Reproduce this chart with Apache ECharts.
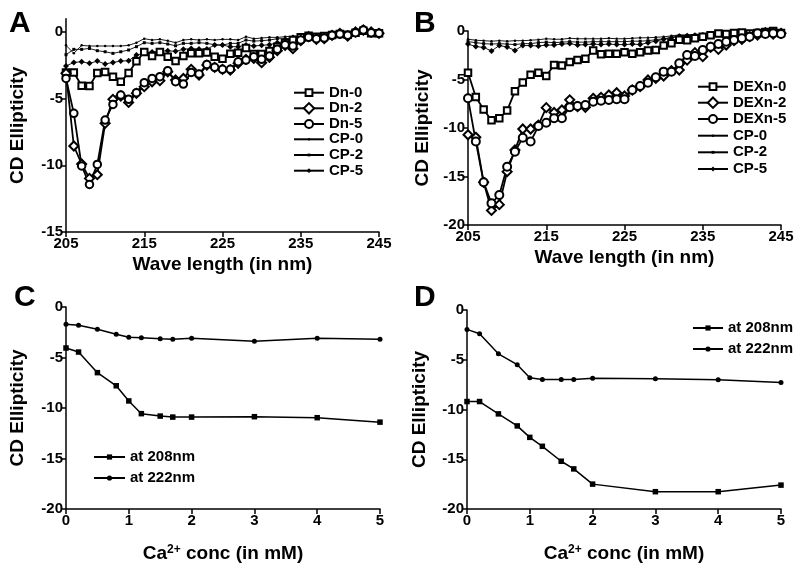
<!DOCTYPE html>
<html>
<head>
<meta charset="utf-8">
<script src="https://cdn.jsdelivr.net/npm/echarts@6/dist/echarts.min.js"></script>
<style>html,body{margin:0;padding:0;background:#fff}#c{width:800px;height:569px}</style>
</head>
<body>
<div id="c"></div>
<script>
// ---------- DATA ----------
const wavelengths = [205,206,207,208,209,210,211,212,213,214,215,216,217,218,219,220,221,222,223,224,225,226,227,228,229,230,231,232,233,234,235,236,237,238,239,240,241,242,243,244,245];
const waveTicks = [205,215,225,235,245];

// Panel A
const Dn0 = [-3.03,-3.03,-4.03,-4.05,-3.08,-3.0,-3.35,-3.73,-3.08,-2.2,-1.5,-1.8,-1.5,-1.85,-2.18,-1.8,-1.6,-1.6,-1.53,-1.85,-2.0,-1.63,-1.55,-1.2,-1.65,-1.65,-1.43,-1.1,-0.8,-0.6,-0.4,-0.28,-0.35,-0.3,-0.22,-0.15,-0.2,-0.05,0.1,-0.1,-0.1];
const Dn2 = [-3.1,-8.55,-9.9,-10.98,-10.7,-6.85,-5.05,-4.8,-5.28,-4.6,-4.1,-3.73,-3.65,-2.98,-3.6,-3.48,-2.8,-3.23,-2.48,-2.65,-2.8,-2.85,-2.35,-2.05,-1.98,-2.3,-1.9,-1.4,-1.0,-1.25,-0.65,-0.35,-0.55,-0.5,-0.25,-0.1,-0.3,0,0.15,0.0,-0.1];
const Dn5 = [-3.48,-6.1,-10.05,-11.43,-9.93,-6.6,-5.43,-4.73,-5.05,-4.55,-3.8,-3.48,-3.35,-2.9,-3.73,-3.9,-3.03,-3.15,-2.43,-2.65,-2.8,-2.8,-2.23,-2.1,-1.85,-2.05,-1.8,-1.3,-0.95,-1.05,-0.6,-0.4,-0.5,-0.45,-0.25,-0.15,-0.25,-0.05,0.15,-0.05,-0.1];
const CP0a = [-1.0,-1.6,-1.0,-1.05,-1.05,-1.05,-1.05,-1.05,-1.0,-0.8,-0.5,-0.6,-0.55,-0.65,-0.8,-0.6,-0.55,-0.6,-0.55,-0.6,-0.55,-0.55,-0.6,-0.35,-0.5,-0.45,-0.4,-0.4,-0.35,-0.3,-0.3,-0.3,-0.25,-0.25,-0.2,-0.2,-0.15,-0.15,-0.1,-0.1,-0.1];
const CP2a = [-1.7,-1.3,-1.3,-1.23,-1.4,-1.48,-1.6,-1.48,-1.35,-1.1,-0.8,-0.85,-0.8,-0.9,-1.03,-0.85,-0.85,-0.8,-0.85,-0.95,-0.98,-0.85,-0.85,-0.6,-0.68,-0.65,-0.6,-0.5,-0.5,-0.45,-0.4,-0.35,-0.3,-0.3,-0.25,-0.2,-0.2,-0.15,-0.1,-0.1,-0.1];
const CP5a = [-2.55,-2.28,-2.23,-2.35,-2.18,-2.4,-2.28,-2.18,-2.15,-1.73,-1.6,-1.5,-1.45,-1.4,-1.45,-1.3,-1.23,-1.28,-1.28,-0.98,-0.98,-1.1,-1.1,-0.98,-1.05,-1.0,-0.95,-0.8,-0.7,-0.6,-0.5,-0.4,-0.35,-0.3,-0.3,-0.25,-0.2,-0.15,-0.05,-0.1,-0.1];

// Panel B
const DEXn0 = [-4.3,-6.8,-8.1,-9.2,-9.0,-8.2,-6.2,-5.3,-4.5,-4.3,-4.65,-3.5,-3.55,-3.2,-3.0,-2.85,-2.0,-2.4,-2.35,-2.35,-2.2,-2.35,-2.2,-2.0,-1.95,-1.5,-1.25,-0.9,-0.95,-0.75,-0.6,-0.45,-0.25,-0.3,-0.2,-0.15,-0.25,-0.2,-0.1,0.0,-0.2];
const DEXn2 = [-10.7,-10.96,-15.6,-18.5,-17.9,-14.5,-12.27,-10.1,-10.1,-9.7,-7.9,-8.4,-8.14,-7.1,-7.8,-7.87,-6.94,-6.84,-6.6,-6.36,-6.7,-6.08,-5.74,-5.05,-4.88,-4.64,-4.09,-4.02,-3.0,-2.23,-2.65,-1.68,-1.89,-1.44,-1.0,-0.86,-0.58,-0.41,-0.17,-0.31,-0.24];
const DEXn5 = [-6.94,-11.4,-15.6,-17.77,-16.9,-14.0,-12.44,-11.0,-11.4,-9.8,-9.45,-9.0,-9.0,-7.87,-7.73,-7.63,-7.29,-7.18,-7.11,-7.04,-7.04,-6.08,-5.67,-5.33,-4.78,-4.19,-4.19,-3.33,-2.47,-2.58,-1.96,-1.62,-1.34,-1.1,-0.93,-0.76,-0.58,-0.24,-0.31,-0.24,-0.31];
const CP0b = [-0.85,-0.95,-1.0,-1.05,-1.0,-1.05,-1.0,-1.0,-0.95,-0.9,-0.8,-0.85,-0.85,-0.75,-0.8,-0.8,-0.8,-0.8,-0.75,-0.8,-0.8,-0.75,-0.7,-0.7,-0.65,-0.6,-0.5,-0.4,-0.4,-0.35,-0.3,-0.3,-0.3,-0.25,-0.25,-0.25,-0.2,-0.2,-0.2,-0.2,-0.2];
const CP2b = [-1.1,-1.2,-1.3,-1.35,-1.3,-1.35,-1.4,-1.3,-1.3,-1.2,-1.15,-1.2,-1.15,-1.1,-1.15,-1.15,-1.1,-1.1,-1.1,-1.1,-1.1,-1.05,-1.05,-1.0,-0.9,-0.8,-0.65,-0.5,-0.45,-0.4,-0.35,-0.35,-0.3,-0.3,-0.3,-0.25,-0.25,-0.2,-0.2,-0.25,-0.25];
const CP5b = [-1.35,-1.6,-1.7,-2.05,-1.5,-1.65,-2.0,-1.5,-1.5,-1.55,-1.45,-1.45,-1.35,-1.3,-1.45,-1.4,-1.35,-1.4,-1.35,-1.4,-1.4,-1.35,-1.4,-1.2,-1.05,-0.85,-0.7,-0.55,-0.5,-0.45,-0.4,-0.35,-0.35,-0.3,-0.3,-0.3,-0.25,-0.2,-0.2,-0.25,-0.3];

// Panels C, D
const conc = [0,0.2,0.5,0.8,1,1.2,1.5,1.7,2,3,4,5];
const C208 = [-4.06,-4.46,-6.5,-7.8,-9.3,-10.56,-10.8,-10.9,-10.9,-10.86,-10.96,-11.4];
const C222 = [-1.7,-1.8,-2.2,-2.7,-3.0,-3.05,-3.15,-3.2,-3.1,-3.4,-3.1,-3.2];
const D208 = [-9.2,-9.2,-10.44,-11.65,-12.8,-13.7,-15.2,-15.97,-17.5,-18.26,-18.26,-17.6];
const D222 = [-1.95,-2.38,-4.4,-5.5,-6.8,-6.98,-6.98,-6.98,-6.85,-6.9,-7.0,-7.28];

const yTicksA = [0,-5,-10,-15];
const yTicks20 = [0,-5,-10,-15,-20];
const concTicks = [0,1,2,3,4,5];

// ---------- CHART ----------
const FONT = '"Liberation Sans", Arial, sans-serif';
const K = '#000';
function pairs(xs, ys){ return xs.map((x,i)=>[x, ys[i]]); }

function xAxisCfg(gi, min, max, ticks, name, gap){
  return {
    type:'value', gridIndex:gi, min:min, max:max,
    name:name, nameLocation:'middle', nameGap:gap,
    nameTextStyle:{fontFamily:FONT, fontWeight:'bold', fontSize:19, color:K,
      rich:{n:{fontFamily:FONT,fontWeight:'bold',fontSize:19,color:K},
            s:{fontFamily:FONT,fontWeight:'bold',fontSize:12,color:K,verticalAlign:'top',lineHeight:14}}},
    axisLine:{show:true,onZero:false,lineStyle:{color:K,width:1.5}},
    axisTick:{show:true,inside:false,length:5,lineStyle:{color:K,width:1.5},customValues:ticks},
    axisLabel:{fontFamily:FONT,fontWeight:'bold',fontSize:15,color:K,margin:4,customValues:ticks,showMinLabel:true,showMaxLabel:true},
    splitLine:{show:false}
  };
}
function yAxisCfg(gi, min, max, ticks, gap){
  return {
    type:'value', gridIndex:gi, min:min, max:max,
    name:'CD Ellipticity', nameLocation:'middle', nameGap:gap, nameRotate:90,
    nameTextStyle:{fontFamily:FONT, fontWeight:'bold', fontSize:19, color:K},
    axisLine:{show:true,onZero:false,lineStyle:{color:K,width:1.5}},
    axisTick:{show:true,inside:false,length:5,lineStyle:{color:K,width:1.5},customValues:ticks},
    axisLabel:{fontFamily:FONT,fontWeight:'bold',fontSize:15,color:K,margin:3,customValues:ticks},
    splitLine:{show:false}
  };
}
function openSeries(name, gi, ys, sym, size){
  return {name:name, type:'line', xAxisIndex:gi, yAxisIndex:gi, data:pairs(wavelengths, ys),
    symbol:sym, symbolSize:size, showAllSymbol:true, z:3,
    lineStyle:{color:K,width:1.8}, itemStyle:{color:K,borderColor:K,borderWidth:1.3}};
}
function cpSeries(name, gi, ys, sym, size){
  return {name:name, type:'line', xAxisIndex:gi, yAxisIndex:gi, data:pairs(wavelengths, ys),
    symbol:sym, symbolSize:size, showAllSymbol:true, z:2,
    lineStyle:{color:K,width:0.9}, itemStyle:{color:K,borderWidth:0}};
}
function concSeries(name, gi, ys, sym, size){
  return {name:name, type:'line', xAxisIndex:gi, yAxisIndex:gi, data:pairs(conc, ys),
    symbol:sym, symbolSize:size, showAllSymbol:true,
    lineStyle:{color:K,width:1.5}, itemStyle:{color:K,borderWidth:0}};
}
// one legend component per entry, row centred at cy
function legendItem(name, left, cy, w, symH){
  return {data:[name], orient:'vertical', left:left, top:cy-8, padding:0,
    itemWidth:w, itemHeight:symH, selectedMode:false,
    textStyle:{fontFamily:FONT,fontWeight:'bold',fontSize:15,color:K,lineHeight:16}};
}
const legendA = ['Dn-0','Dn-2','Dn-5','CP-0','CP-2','CP-5'];
const legendB = ['DEXn-0','DEXn-2','DEXn-5','CP-0','CP-2','CP-5'];
const legendCD = ['at 208nm','at 222nm'];
const rowsA = [92.7,108.3,124,139.3,155,170.7];
const rowsB = [86.7,102.7,119,135.7,152.3,169];
const symH6 = [8.5,13,10,3,3.5,6];
const legends = [];
legendA.forEach((n,i)=>legends.push(legendItem(n, 293, rowsA[i], 30, symH6[i])));
legendB.forEach((n,i)=>legends.push(legendItem(n, 697, rowsB[i], 30, symH6[i])));
legendCD.forEach((n,i)=>legends.push(legendItem(n, 93, [457,478][i], 31, 6.5)));
legendCD.forEach((n,i)=>legends.push(legendItem(n, 692, [328,349][i], 30, 6.5)));

const option = {
  animation:false,
  backgroundColor:'#fff',
  grid:[
    {left:66, top:18.7, width:313, height:213.3},
    {left:468, top:31, width:313, height:194},
    {left:66, top:307, width:314, height:202},
    {left:467, top:310, width:314, height:199}
  ],
  xAxis:[
    xAxisCfg(0, 205, 245, waveTicks, 'Wave length (in nm)', 23),
    xAxisCfg(1, 205, 245, waveTicks, 'Wave length (in nm)', 23),
    xAxisCfg(2, 0, 5, concTicks, '{n|Ca}{s|2+}{n| conc (in mM)}', 35),
    xAxisCfg(3, 0, 5, concTicks, '{n|Ca}{s|2+}{n| conc (in mM)}', 35)
  ],
  yAxis:[
    yAxisCfg(0, -15, 1, yTicksA, 39),
    yAxisCfg(1, -20, 0, yTicks20, 36),
    yAxisCfg(2, -20, 0, yTicks20, 39),
    yAxisCfg(3, -20, 0, yTicks20, 38)
  ],
  legend:legends,
  graphic:[
    {type:'text', left:9, top:9, style:{text:'A', font:'bold 30px '+FONT, fill:K}},
    {type:'text', left:414, top:9, style:{text:'B', font:'bold 30px '+FONT, fill:K}},
    {type:'text', left:14, top:283, style:{text:'C', font:'bold 30px '+FONT, fill:K}},
    {type:'text', left:414, top:283, style:{text:'D', font:'bold 30px '+FONT, fill:K}}
  ],
  series:[
    cpSeries('CP-0',0,CP0a,'circle',2.5),
    cpSeries('CP-2',0,CP2a,'rect',3),
    cpSeries('CP-5',0,CP5a,'diamond',6),
    openSeries('Dn-0',0,Dn0,'emptyRect',6.5),
    openSeries('Dn-2',0,Dn2,'emptyDiamond',9),
    openSeries('Dn-5',0,Dn5,'emptyCircle',7.5),
    cpSeries('CP-0',1,CP0b,'circle',2.5),
    cpSeries('CP-2',1,CP2b,'rect',3),
    cpSeries('CP-5',1,CP5b,'diamond',6),
    openSeries('DEXn-0',1,DEXn0,'emptyRect',6.5),
    openSeries('DEXn-2',1,DEXn2,'emptyDiamond',9),
    openSeries('DEXn-5',1,DEXn5,'emptyCircle',8),
    concSeries('at 208nm',2,C208,'rect',5.5),
    concSeries('at 222nm',2,C222,'circle',5),
    concSeries('at 208nm',3,D208,'rect',5.5),
    concSeries('at 222nm',3,D222,'circle',5)
  ]
};
const chart = echarts.init(document.getElementById('c'), null, {renderer:'canvas'});
chart.setOption(option);
</script>
</body>
</html>
